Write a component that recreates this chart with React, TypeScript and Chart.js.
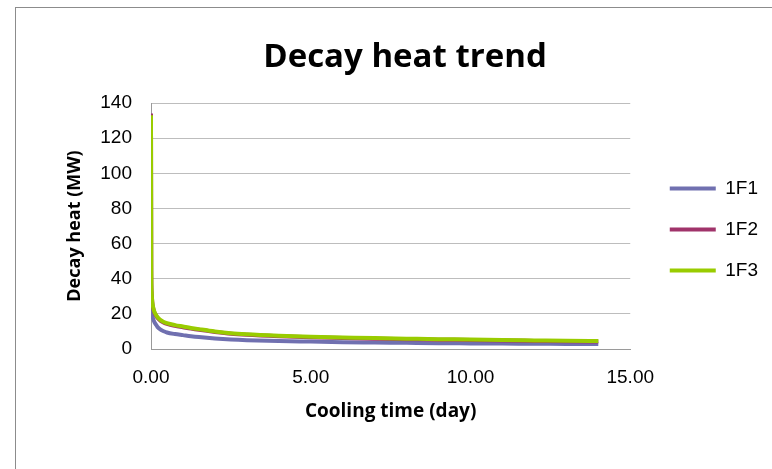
import React, { useEffect, useRef } from "react";
import { Chart, registerables } from "chart.js";

Chart.register(...registerables);

const chartTitle = "Decay heat trend";
const xTitle = "Cooling time (day)";
const yTitle = "Decay heat (MW)";
const seriesNames = ["1F1", "1F2", "1F3"];
const seriesColors = ["#7070B0", "#A0336A", "#99CC00"];

const coolingDays = [0, 0.01, 0.02, 0.04, 0.07, 0.1, 0.15, 0.2, 0.3, 0.4, 0.5, 0.75, 1, 1.25, 1.5, 2, 2.5, 3, 4, 5, 6, 7, 8, 9, 10, 11, 12, 13, 14];
const heat1F1 = [28, 25, 22, 19, 17, 15.6, 14, 12.6, 11.0, 10.1, 9.4, 8.5, 7.9, 7.3, 6.8, 6.0, 5.4, 5.0, 4.5, 4.2, 3.9, 3.7, 3.5, 3.3, 3.2, 3.1, 3.0, 2.9, 2.8];
const heat1F2 = [134, 44, 32.5, 26.6, 23.1, 21.1, 19.2, 17.8, 16.0, 15.0, 14.3, 13.2, 12.4, 11.6, 10.9, 9.7, 8.7, 8.1, 7.3, 6.7, 6.3, 5.9, 5.6, 5.3, 5.1, 4.8, 4.6, 4.4, 4.3];
const heat1F3 = [133, 45, 33, 27, 23.5, 21.5, 19.6, 18.2, 16.4, 15.4, 14.7, 13.6, 12.8, 12.0, 11.3, 10.0, 9.0, 8.4, 7.6, 7.0, 6.6, 6.2, 5.9, 5.6, 5.4, 5.1, 4.9, 4.7, 4.6];
const seriesValues = [heat1F1, heat1F2, heat1F3];

const xMin = 0;
const xMax = 15;
const xStep = 5;
const yMin = 0;
const yMax = 140;
const yStep = 20;

const CANVAS_W = 810;
const CANVAS_H = 469;

const legendNudge = {
  id: "legendNudge",
  afterLayout(chart: any) {
    const lg = chart.legend;
    if (lg) {
      lg.top -= 5;
      lg.bottom -= 5;
      lg.left -= 42;
      lg.right -= 42;
    }
  },
};

export default function App() {
  const canvasRef = useRef<HTMLCanvasElement | null>(null);

  useEffect(() => {
    const canvas = canvasRef.current;
    if (!canvas) return;
    const datasets = seriesNames.map((name, i) => ({
      label: name,
      data: coolingDays.map((d, j) => ({ x: d, y: seriesValues[i][j] })),
      borderColor: seriesColors[i],
      backgroundColor: seriesColors[i],
      borderWidth: 4,
      pointRadius: 0,
      pointHoverRadius: 0,
      pointStyle: "line" as const,
      cubicInterpolationMode: "monotone" as const,
      showLine: true,
      fill: false,
      order: seriesNames.length - 1 - i,
      yAxisID: "y",
    }));

    const chart = new Chart(canvas, {
      type: "scatter",
      data: { datasets },
      plugins: [legendNudge],
      options: {
        responsive: false,
        animation: false,
        layout: { padding: { left: 0, right: 0, top: 0, bottom: 0 } },
        plugins: {
          title: {
            display: true,
            text: chartTitle,
            color: "#000",
            font: { family: "Open Sans", size: 33, weight: "bold" },
            padding: { top: 37.7, bottom: 25.7 },
          },
          legend: {
            display: true,
            position: "right",
            labels: {
              usePointStyle: true,
              pointStyle: "line",
              pointStyleWidth: 46,
              color: "#000",
              font: { family: "Liberation Sans", size: 19 },
              padding: 22,
              sort: (a: any, b: any) => a.datasetIndex - b.datasetIndex,
            },
          },
          tooltip: { enabled: false },
        },
        scales: {
          x: {
            type: "linear",
            min: xMin,
            max: xMax,
            afterFit: (s: any) => {
              s.height = 120;
            },
            ticks: {
              stepSize: xStep,
              padding: 17,
              color: "#000",
              font: { family: "Liberation Sans", size: 19 },
              callback: (v: any) => Number(v).toFixed(2),
              maxRotation: 0,
            },
            grid: { display: false, drawTicks: false },
            border: { display: true, color: "#9a9a9a", width: 1 },
            title: {
              display: true,
              text: xTitle,
              color: "#000",
              font: { family: "Open Sans", size: 19, weight: "bold" },
              padding: { top: 0, bottom: 45.6 },
            },
          },
          y: {
            type: "linear",
            position: "left",
            min: yMin,
            max: yMax,
            afterFit: (s: any) => {
              s.width = 151;
            },
            ticks: {
              stepSize: yStep,
              padding: 19,
              color: "#000",
              font: { family: "Liberation Sans", size: 19 },
            },
            grid: { color: "#bdbdbd", drawTicks: false, lineWidth: 1 },
            border: { display: true, color: "#9a9a9a", width: 1 },
            title: {
              display: true,
              text: yTitle,
              color: "#000",
              font: { family: "Open Sans", size: 18, weight: "bold" },
              padding: { top: 64.2, bottom: 0 },
            },
          },
          yGap: {
            type: "linear",
            position: "right",
            min: yMin,
            max: yMax,
            display: true,
            afterFit: (s: any) => {
              s.width = 59.5;
            },
            ticks: { display: false },
            grid: { display: false, drawTicks: false },
            border: { display: false },
          },
        },
      },
    });
    return () => chart.destroy();
  }, []);

  return (
    <div style={{ position: "fixed", left: 0, top: 0, width: 772, height: 469, overflow: "hidden", background: "#fff" }}>
      <div
        style={{
          position: "absolute",
          left: 15,
          top: 7,
          width: 900,
          height: 600,
          borderLeft: "1px solid #8c8c8c",
          borderTop: "1px solid #8c8c8c",
        }}
      />
      <canvas
        ref={canvasRef}
        width={CANVAS_W}
        height={CANVAS_H}
        style={{ position: "absolute", left: 0, top: 0, display: "block" }}
      />
    </div>
  );
}
